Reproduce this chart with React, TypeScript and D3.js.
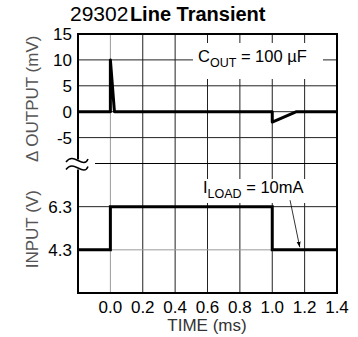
import React from "react";
import * as d3 from "d3";

// Output deviation trace (mV) versus time (ms)
const outputTime = [-0.2, 0.0, 0.0, 0.025, 1.0, 1.0, 1.15, 1.4];
const outputMv = [0, 0, 10, 0, 0, -2, 0, 0];

// Input voltage step (V) versus time (ms)
const inputTime = [-0.2, 0.0, 0.0, 1.0, 1.0, 1.4];
const inputV = [4.3, 4.3, 6.3, 6.3, 4.3, 4.3];

// Axis ticks
const timeTicks = [0.0, 0.2, 0.4, 0.6, 0.8, 1.0, 1.2, 1.4];
const outputTicks = [15, 10, 5, 0, -5];
const inputTicks = [6.3, 4.3];

const FONT = "'Liberation Sans', Arial, Helvetica, sans-serif";

export default function App() {
  const left = 78;
  const right = 337;
  const top = 34;
  const mid = 163.5;
  const bottom = 293;

  const x = d3.scaleLinear().domain([-0.2, 1.4]).range([left, right]);
  const yOut = d3.scaleLinear().domain([-10, 15]).range([mid, top]);
  const yIn = d3.scaleLinear().domain([2.3, 8.3]).range([bottom, mid]);

  const outLine = d3
    .line<number>()
    .x((_, i) => x(outputTime[i]))
    .y((d) => yOut(d));
  const inLine = d3
    .line<number>()
    .x((_, i) => x(inputTime[i]))
    .y((d) => yIn(d));

  const gridDark = "#222";
  const gridLight = "#9a9a9a";

  // break symbol (two tildes) on the left axis
  const bx = left;
  const by = mid;
  const tilde = (cy: number) =>
    `M${bx - 12},${cy + 1.5} C${bx - 8},${cy - 4} ${bx - 4},${cy - 2} ${bx},${cy} S${bx + 8},${cy + 4} ${bx + 10},${cy - 1.5}`;

  const arrowFrom = { t: 1.11, v: 6.6 };
  const arrowTo = { t: 1.17, v: 4.42 };

  return (
    <svg width={358} height={337} style={{ display: "block", position: "absolute", left: 0, top: 0 }}>
      <defs>
        <marker id="ah" viewBox="0 0 10 10" refX="10" refY="5" markerWidth="7" markerHeight="7" orient="auto">
          <path d="M0,1.5 L10,5 L0,8.5 Z" fill="#000" />
        </marker>
      </defs>
      <rect x={0} y={0} width={358} height={337} fill="#fff" />

      {/* title */}
      <text x={70} y={21} fontFamily={FONT} fill="#000">
        <tspan fontSize={21}>29302</tspan>
        <tspan fontSize={20} fontWeight="bold" dx={1.5}>Line Transient</tspan>
      </text>

      {/* vertical grid */}
      {timeTicks.slice(0, -1).map((t) => (
        <line
          key={"vg" + t}
          x1={x(t)}
          x2={x(t)}
          y1={top}
          y2={bottom}
          stroke={t === 0 ? gridLight : gridDark}
          strokeWidth={1}
        />
      ))}

      {/* horizontal grid, output panel */}
      {outputTicks.slice(1).map((v) => (
        <line key={"hg" + v} x1={left} x2={right} y1={yOut(v)} y2={yOut(v)} stroke={gridDark} strokeWidth={1} />
      ))}
      {/* horizontal grid, input panel */}
      {inputTicks.map((v) => (
        <line
          key={"hi" + v}
          x1={left}
          x2={right}
          y1={yIn(v)}
          y2={yIn(v)}
          stroke={v === 4.3 ? gridLight : gridDark}
          strokeWidth={1}
        />
      ))}
      {/* panel separator */}
      <line x1={95} x2={right} y1={mid} y2={mid} stroke="#000" strokeWidth={1.2} />

      {/* annotation backgrounds */}
      <rect x={193} y={43} width={130} height={36} fill="#fff" />
      <rect x={199} y={179} width={111} height={24} fill="#fff" />

      {/* frame */}
      <line x1={left} x2={right} y1={top} y2={top} stroke="#000" strokeWidth={2} />
      <line x1={left} x2={right} y1={bottom} y2={bottom} stroke="#000" strokeWidth={2} />
      <line x1={right} x2={right} y1={top - 1} y2={bottom + 1} stroke="#000" strokeWidth={2} />
      <line x1={left} x2={left} y1={top - 1} y2={mid - 4} stroke="#000" strokeWidth={2} />
      <line x1={left} x2={left} y1={mid + 6} y2={bottom + 1} stroke="#000" strokeWidth={2} />
      <path d={tilde(mid - 3)} fill="none" stroke="#000" strokeWidth={1.5} />
      <path d={tilde(mid + 4.5)} fill="none" stroke="#000" strokeWidth={1.5} />

      {/* data */}
      <path d={outLine(outputMv) || ""} fill="none" stroke="#000" strokeWidth={3} strokeLinejoin="round" />
      <path d={inLine(inputV) || ""} fill="none" stroke="#000" strokeWidth={3} strokeLinejoin="miter" />

      {/* annotations */}
      <text x={198} y={62} fontFamily={FONT} fontSize={16.5} fill="#000">
        C<tspan fontSize={12.5} dy={5}>OUT</tspan>
        <tspan dy={-5}> = 100 µF</tspan>
      </text>
      <text x={203} y={193} fontFamily={FONT} fontSize={16.5} fill="#000">
        I<tspan fontSize={12.5} dy={5}>LOAD</tspan>
        <tspan dy={-5}> = 10mA</tspan>
      </text>
      <line
        x1={x(arrowFrom.t)}
        y1={yIn(arrowFrom.v)}
        x2={x(arrowTo.t)}
        y2={yIn(arrowTo.v)}
        stroke="#000"
        strokeWidth={0.8}
        markerEnd="url(#ah)"
      />

      {/* y tick labels */}
      {outputTicks.map((v) => (
        <text key={"yo" + v} x={72} y={yOut(v)} dy="0.36em" textAnchor="end" fontFamily={FONT} fontSize={17} fill="#000">
          {v}
        </text>
      ))}
      {inputTicks.map((v) => (
        <text key={"yi" + v} x={72} y={yIn(v)} dy="0.36em" textAnchor="end" fontFamily={FONT} fontSize={17} fill="#000">
          {v.toFixed(1)}
        </text>
      ))}

      {/* x tick labels */}
      {timeTicks.map((t) => (
        <text key={"xt" + t} x={x(t)} y={313} textAnchor="middle" fontFamily={FONT} fontSize={17} fill="#000">
          {t.toFixed(1)}
        </text>
      ))}

      {/* axis titles */}
      <text x={207} y={331} textAnchor="middle" fontFamily={FONT} fontSize={17} fill="#333">
        TIME (ms)
      </text>
      <text
        transform={`translate(38,${(yOut(15) + yOut(-10)) / 2}) rotate(-90)`}
        textAnchor="middle"
        fontFamily={FONT}
        fontSize={17}
        fill="#555"
      >
        Δ OUTPUT (mV)
      </text>
      <text
        transform={`translate(38,${(yIn(8.3) + yIn(2.3)) / 2 + 1}) rotate(-90)`}
        textAnchor="middle"
        fontFamily={FONT}
        fontSize={17}
        fill="#555"
      >
        INPUT (V)
      </text>
    </svg>
  );
}
